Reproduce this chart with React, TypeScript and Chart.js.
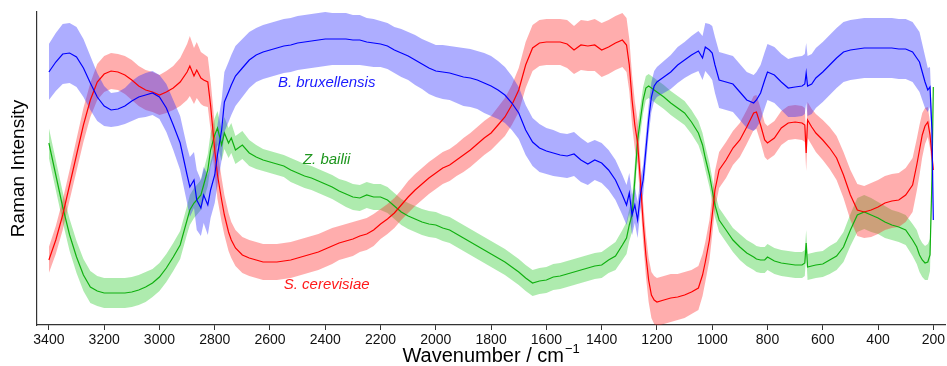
import React, { useEffect, useRef } from "react";
import { Chart, registerables } from "chart.js";

Chart.register(...registerables);

// Wavenumber grid (cm^-1)
const wavenumbers = [
  3400, 3375, 3350, 3325, 3300, 3275, 3250, 3225, 3200, 3175,
  3150, 3125, 3100, 3075, 3050, 3025, 3000, 2975, 2950, 2925,
  2900, 2890, 2875, 2865, 2850, 2840, 2825, 2815, 2800, 2790,
  2775, 2765, 2750, 2740, 2725, 2700, 2675, 2650, 2625, 2600,
  2575, 2550, 2525, 2500, 2475, 2450, 2425, 2400, 2375, 2350,
  2325, 2300, 2275, 2250, 2225, 2200, 2175, 2150, 2125, 2100,
  2075, 2050, 2025, 2000, 1975, 1950, 1925, 1900, 1875, 1850,
  1825, 1800, 1775, 1750, 1725, 1700, 1675, 1650, 1625, 1600,
  1575, 1550, 1525, 1500, 1475, 1450, 1425, 1400, 1375, 1350,
  1325, 1310, 1300, 1290, 1280, 1270, 1260, 1250, 1240, 1230,
  1220, 1210, 1200, 1175, 1150, 1125, 1100, 1075, 1050, 1035,
  1025, 1010, 1000, 990, 975, 950, 925, 900, 875, 850,
  840, 825, 810, 800, 775, 750, 725, 700, 675, 665,
  660, 655, 640, 625, 600, 575, 550, 525, 500, 475,
  450, 425, 400, 375, 350, 325, 300, 275, 260, 250,
  240, 230, 220, 212, 205, 200,
];

// B. bruxellensis mean and spread
const brettMean = [
  253, 263, 271, 272, 268, 257, 242, 228, 219, 215,
  216, 219, 224, 228, 230, 232, 228, 217, 200, 182,
  150, 138, 145, 125, 117, 130, 120, 135, 150, 170,
  195, 223, 233, 240, 249, 257, 265, 270, 273, 275,
  277, 279, 280, 282, 283, 284, 285, 286, 286, 286,
  286, 285, 285, 283, 282, 281, 279, 275, 272, 269,
  265, 261, 257, 254, 253, 252, 250, 248, 247, 245,
  242, 239, 235, 230, 222, 212, 195, 183, 177, 174,
  172, 170, 169, 171, 165, 161, 165, 162, 155, 145,
  130, 120, 132, 110, 120, 105, 130, 145, 175, 205,
  228, 239, 243, 248, 253, 260, 265, 270, 274, 267,
  278, 275, 272, 260, 245, 243, 241, 233, 225, 222,
  225, 232, 245, 253, 250, 243, 237, 238, 239, 241,
  252, 239, 241, 247, 253, 260, 267, 273, 275, 276,
  277, 277, 277, 277, 277, 276, 276, 273, 267, 263,
  253, 243, 235, 238, 195, 105,
];
const brettSd = [
  28, 29, 30, 30, 30, 29, 27, 24, 20, 17,
  17, 18, 20, 21, 22, 22, 22, 24, 25, 27,
  28, 30, 28, 30, 28, 28, 30, 28, 28, 30,
  30, 30, 30, 30, 30, 29, 28, 27, 27, 27,
  27, 27, 27, 27, 27, 27, 27, 27, 26, 26,
  26, 25, 25, 24, 24, 23, 23, 23, 24, 24,
  25, 25, 26, 26, 27, 27, 28, 29, 29, 29,
  30, 30, 29, 28, 27, 26, 25, 24, 24, 23,
  23, 22, 22, 22, 22, 21, 20, 20, 20, 20,
  20, 20, 20, 20, 18, 18, 16, 15, 15, 15,
  15, 15, 15, 16, 17, 18, 18, 19, 20, 22,
  24, 26, 27, 28, 28, 28, 28, 28, 28, 28,
  28, 28, 28, 28, 28, 28, 29, 30, 30, 30,
  30, 30, 30, 30, 30, 30, 30, 30, 30, 30,
  30, 30, 30, 30, 30, 30, 30, 30, 30, 30,
  28, 26, 22, 20, 15, 10,
];

// S. cerevisiae mean and spread
const cerevMean = [
  65, 85, 110, 140, 170, 200, 225, 243, 251, 254,
  253, 250, 245, 239, 235, 233, 230, 233, 237, 243,
  253, 259, 249, 255, 247, 245, 243, 220, 175, 150,
  125, 110, 93, 85, 77, 70, 67, 65, 63, 63,
  63, 64, 65, 67, 69, 71, 73, 76, 79, 82,
  84, 86, 89, 91, 95, 101, 106, 112, 120, 128,
  135, 141, 147, 152, 157, 160, 165, 170, 175, 181,
  187, 192, 200, 208, 220, 235, 260, 277, 282, 283,
  283, 283, 281, 275, 280, 279, 280, 275, 278, 282,
  285, 280, 260, 225, 200, 182, 145, 103, 70, 45,
  30, 25, 23, 25, 27, 28, 30, 33, 37, 50,
  63, 85, 110, 135, 155, 165, 177, 185, 198, 212,
  213, 200, 185, 182, 187, 197, 202, 203, 202, 200,
  172, 205, 198, 192, 185, 177, 167, 150, 130, 115,
  113, 115, 118, 122, 124, 125, 130, 140, 160, 175,
  190, 199, 203, 190, 170, 155,
];
const cerevSd = [
  13, 14, 15, 15, 16, 17, 17, 18, 18, 18,
  18, 19, 20, 20, 20, 20, 20, 21, 22, 24,
  28, 30, 28, 28, 26, 26, 25, 25, 25, 24,
  22, 20, 19, 18, 18, 18, 18, 18, 18, 18,
  18, 18, 18, 18, 18, 18, 18, 18, 18, 17,
  17, 17, 16, 16, 16, 15, 15, 15, 15, 16,
  16, 16, 16, 16, 16, 16, 16, 17, 17, 17,
  17, 17, 18, 19, 20, 22, 23, 23, 23, 23,
  23, 23, 24, 24, 25, 25, 26, 27, 27, 27,
  27, 27, 26, 25, 24, 22, 20, 20, 21, 22,
  23, 24, 24, 24, 24, 23, 23, 22, 22, 21,
  20, 20, 20, 19, 18, 18, 17, 17, 17, 17,
  17, 17, 17, 17, 17, 17, 17, 17, 17, 17,
  18, 18, 18, 19, 20, 21, 22, 23, 25, 26,
  26, 27, 27, 27, 27, 27, 27, 27, 26, 25,
  22, 18, 15, 13, 11, 10,
];

// Z. bailii mean and spread
const bailiiMean = [
  182, 150, 118, 90, 68, 50, 38, 34, 32, 32,
  32, 32, 33, 35, 38, 42, 48, 57, 68, 80,
  105, 115, 122, 125, 130, 140, 155, 175, 190, 197,
  180, 192, 182, 187, 175, 180, 172, 168, 165, 163,
  161, 159, 155, 152, 149, 147, 144, 141, 138, 134,
  131, 128, 127, 130, 128, 128, 125, 119, 113, 109,
  106, 103, 101, 100, 97, 95, 91, 87, 83, 79,
  75, 71, 67, 63, 58, 53, 47, 42, 44, 45,
  48, 49, 51, 53, 55, 57, 59, 60, 65, 69,
  80, 87, 100, 110, 145, 185, 205, 225, 237, 239,
  237, 235, 233, 228, 222, 217, 212, 203, 192, 180,
  167, 150, 135, 120, 105, 95, 85, 78, 72, 68,
  66, 65, 65, 68, 64, 62, 61, 60, 60, 62,
  82, 58, 59, 60, 61, 65, 69, 78, 95, 110,
  113, 110, 107, 103, 100, 98, 95, 85, 78, 70,
  65, 62, 63, 70, 145, 238,
];
const bailiiSd = [
  15, 15, 15, 16, 16, 16, 16, 15, 15, 15,
  15, 15, 15, 15, 15, 14, 14, 14, 14, 14,
  14, 15, 15, 15, 15, 15, 16, 17, 17, 17,
  16, 16, 15, 15, 14, 14, 13, 12, 11, 11,
  11, 11, 12, 12, 12, 12, 12, 12, 12, 12,
  13, 13, 13, 13, 13, 13, 13, 13, 13, 13,
  13, 13, 13, 13, 13, 13, 13, 13, 13, 13,
  13, 13, 13, 13, 13, 13, 13, 13, 13, 13,
  13, 13, 13, 13, 13, 13, 13, 13, 13, 14,
  15, 16, 16, 17, 16, 15, 14, 13, 12, 12,
  12, 12, 12, 12, 12, 12, 12, 12, 12, 12,
  12, 12, 12, 12, 12, 12, 12, 13, 13, 13,
  13, 13, 13, 13, 13, 13, 13, 13, 13, 13,
  13, 13, 13, 13, 13, 14, 14, 15, 16, 17,
  17, 17, 16, 16, 15, 15, 15, 16, 17, 17,
  17, 17, 18, 16, 12, 8,
];

const xTicks = [3400, 3200, 3000, 2800, 2600, 2400, 2200, 2000, 1800, 1600, 1400, 1200, 1000, 800, 600, 400, 200];

const seriesNames = ["B. bruxellensis", "S. cerevisiae", "Z. bailii"];
const lineColors = ["#0000ff", "#ff0000", "#10b010"];
const bandColors = ["rgba(40,40,255,0.38)", "rgba(255,40,40,0.38)", "rgba(30,200,30,0.36)"];
const textColors = ["#1a1aff", "#ff1a1a", "#1e961e"];
// label anchors: [wavenumber, intensity]
const labelAnchors = [
  [2395, 242],
  [2395, 40],
  [2395, 165],
];

const FONT = '"Liberation Sans", Arial, Helvetica, sans-serif';

export default function App() {
  const ref = useRef<HTMLCanvasElement | null>(null);

  useEffect(() => {
    document.body.style.margin = "0";
    const canvas = ref.current;
    if (!canvas) return;

    const means = [brettMean, cerevMean, bailiiMean];
    const sds = [brettSd, cerevSd, bailiiSd];

    const bandSets: any[] = [];
    const lineSets: any[] = [];
    means.forEach((m, k) => {
      const s = sds[k];
      bandSets.push({
        label: seriesNames[k] + " upper",
        data: wavenumbers.map((w, i) => ({ x: w, y: m[i] + s[i] })),
        borderWidth: 0,
        borderColor: "rgba(0,0,0,0)",
        backgroundColor: bandColors[k],
        pointRadius: 0,
        fill: "+1",
        tension: 0,
      });
      bandSets.push({
        label: seriesNames[k] + " lower",
        data: wavenumbers.map((w, i) => ({ x: w, y: m[i] - s[i] })),
        borderWidth: 0,
        borderColor: "rgba(0,0,0,0)",
        pointRadius: 0,
        fill: false,
        tension: 0,
      });
      lineSets.push({
        label: seriesNames[k],
        data: wavenumbers.map((w, i) => ({ x: w, y: m[i] })),
        borderWidth: 1.2,
        borderColor: lineColors[k],
        pointRadius: 0,
        fill: false,
        tension: 0,
      });
    });

    const textPlugin = {
      id: "textPlugin",
      afterDraw(chart: any) {
        const { ctx, scales, chartArea } = chart;
        const x = scales.x;
        const y = scales.y;
        ctx.save();
        ctx.font = "italic 15px " + FONT;
        ctx.textAlign = "center";
        ctx.textBaseline = "middle";
        seriesNames.forEach((name, k) => {
          ctx.fillStyle = textColors[k];
          ctx.fillText(name, x.getPixelForValue(labelAnchors[k][0]), y.getPixelForValue(labelAnchors[k][1]));
        });
        ctx.fillStyle = "#000";
        // y title
        ctx.save();
        ctx.font = "19px " + FONT;
        ctx.translate(19, (chartArea.top + chartArea.bottom) / 2);
        ctx.rotate(-Math.PI / 2);
        ctx.textAlign = "center";
        ctx.textBaseline = "middle";
        ctx.fillText("Raman Intensity", 0, 0);
        ctx.restore();
        // x title with superscript
        const main = "Wavenumber / cm";
        const sup = "\u22121";
        ctx.font = "20px " + FONT;
        const wMain = ctx.measureText(main).width;
        ctx.font = "13px " + FONT;
        const wSup = ctx.measureText(sup).width;
        const cx = (chartArea.left + chartArea.right) / 2;
        const start = cx - (wMain + wSup + 1) / 2;
        ctx.textAlign = "left";
        ctx.textBaseline = "alphabetic";
        ctx.font = "20px " + FONT;
        ctx.fillText(main, start, 362);
        ctx.font = "13px " + FONT;
        ctx.fillText(sup, start + wMain + 1, 353);
        ctx.restore();
      },
    };

    const chart = new Chart(canvas, {
      type: "line",
      data: { datasets: [...lineSets, ...bandSets] },
      options: {
        animation: false,
        responsive: false,
        maintainAspectRatio: false,
        layout: { padding: { top: 12, right: 0, left: 0, bottom: 0 } },
        plugins: {
          legend: { display: false },
          tooltip: { enabled: false },
          filler: { drawTime: "beforeDatasetsDraw", propagate: false },
        },
        scales: {
          x: {
            type: "linear",
            reverse: true,
            min: 157,
            max: 3443,
            afterBuildTicks: (s: any) => {
              s.ticks = xTicks.map((v) => ({ value: v }));
            },
            afterFit: (s: any) => {
              s.height = 41;
            },
            ticks: {
              autoSkip: false,
              maxRotation: 0,
              padding: 2,
              color: "#111",
              font: { family: FONT, size: 14 },
              callback: (v: any) => String(v),
            },
            grid: { display: true, drawOnChartArea: false, drawTicks: true, tickLength: 5, color: "#333" },
            border: { display: true, color: "#333", width: 1.2 },
          },
          y: {
            type: "linear",
            min: 0,
            max: 313,
            afterFit: (s: any) => {
              s.width = 37;
            },
            ticks: { display: false },
            grid: { display: false, drawTicks: false },
            border: { display: true, color: "#333", width: 1.2 },
          },
        },
      },
      plugins: [textPlugin],
    });

    return () => chart.destroy();
  }, []);

  return (
    <div style={{ width: 947, height: 366, position: "relative", background: "#fff" }}>
      <canvas ref={ref} width={947} height={366} style={{ display: "block", width: 947, height: 366 }} />
    </div>
  );
}
